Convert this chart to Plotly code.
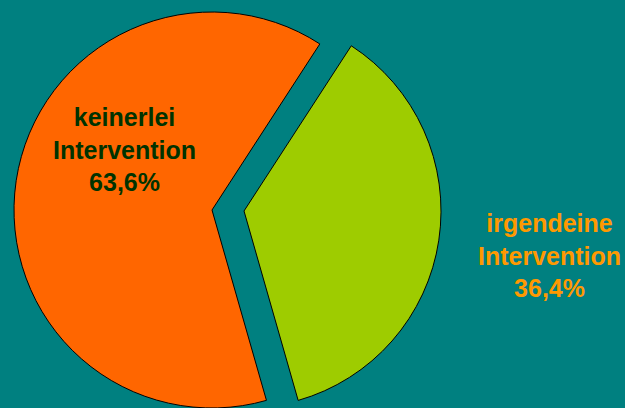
import plotly.graph_objects as go

# Data
labels = ["irgendeine Intervention", "keinerlei Intervention"]
values = [36.4, 63.6]
colors = ["#9ECC00", "#FF6600"]
label_colors = ["#FF9900", "#003300"]

W, H = 625, 408
BG = "#008080"

def fmt(v):
    return f"{v:.1f}".replace(".", ",") + "%"

def dom(cx, cy, r):
    return dict(x=[(cx - r) / W, (cx + r) / W], y=[1 - (cy + r) / H, 1 - (cy - r) / H])

fig = go.Figure()
# orange (main) slice
fig.add_trace(go.Pie(
    labels=labels, values=values, sort=False, direction="clockwise", rotation=33,
    marker=dict(colors=["rgba(0,0,0,0)", colors[1]],
                line=dict(color=["rgba(0,0,0,0)", "black"], width=[0, 1])),
    textinfo="none", hoverinfo="skip", showlegend=False,
    domain=dom(212, 210, 198),
))
# green (exploded) slice
fig.add_trace(go.Pie(
    labels=labels, values=values, sort=False, direction="clockwise", rotation=33,
    marker=dict(colors=[colors[0], "rgba(0,0,0,0)"],
                line=dict(color=["black", "rgba(0,0,0,0)"], width=[1, 0])),
    textinfo="none", hoverinfo="skip", showlegend=False,
    domain=dom(244, 211, 197),
))

label_pos = [(549, 255), (124, 149)]
for i in range(2):
    txt = "<b>" + labels[i].replace(" ", "<br>") + "<br>" + fmt(values[i]) + "</b>"
    fig.add_annotation(
        x=label_pos[i][0] / W, y=1 - label_pos[i][1] / H, xref="paper", yref="paper",
        text=txt, showarrow=False, align="center", xanchor="center", yanchor="middle",
        font=dict(family="Liberation Sans, Arial, sans-serif", size=25, color=label_colors[i]),
    )

fig.update_layout(
    width=W, height=H, margin=dict(l=0, r=0, t=0, b=0),
    paper_bgcolor=BG, plot_bgcolor=BG, showlegend=False,
)
fig.write_html("out.html")
